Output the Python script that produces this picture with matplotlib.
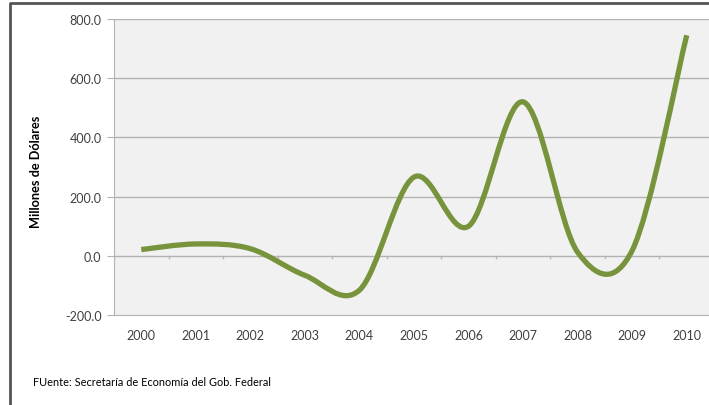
import matplotlib
matplotlib.use("Agg")
import matplotlib.pyplot as plt
from matplotlib.path import Path
from matplotlib.patches import PathPatch
from matplotlib.lines import Line2D
import numpy as np

plt.rcParams['font.family'] = ['Lato', 'DejaVu Sans']

# datos
years = ['2000', '2001', '2002', '2003', '2004', '2005',
         '2006', '2007', '2008', '2009', '2010']
values = [21, 40, 24, -66, -116, 266, 100, 520, 12, 18, 745]
yticks = [-200, 0, 200, 400, 600, 800]
ylabel = 'Millones de Dólares'
source = 'FUente: Secretaría de Economía del Gob. Federal'

line_color = '#77933C'
grid_color = '#b3b3b3'
text_color = '#404040'

fig = plt.figure(figsize=(7.09, 4.06), dpi=100)
ax = fig.add_axes([114 / 709, 1 - 316 / 406, 600 / 709, 296 / 406])
ax.set_facecolor('#f1f1f1')

x = np.arange(len(years))
y = np.array(values, dtype=float)

# suavizado tipo Excel (Catmull-Rom -> Bezier)
verts = [(x[0], y[0])]
codes = [Path.MOVETO]
n = len(x)
for i in range(n - 1):
    p0 = (x[i - 1], y[i - 1]) if i > 0 else (x[i], y[i])
    p1 = (x[i], y[i])
    p2 = (x[i + 1], y[i + 1])
    p3 = (x[i + 2], y[i + 2]) if i + 2 < n else (x[i + 1], y[i + 1])
    c1 = (p1[0] + (p2[0] - p0[0]) / 6, p1[1] + (p2[1] - p0[1]) / 6)
    c2 = (p2[0] - (p3[0] - p1[0]) / 6, p2[1] - (p3[1] - p1[1]) / 6)
    verts += [c1, c2, p2]
    codes += [Path.CURVE4] * 3
ax.add_patch(PathPatch(Path(verts, codes), facecolor='none',
                       edgecolor=line_color, lw=3.8, capstyle='butt',
                       joinstyle='round', zorder=4))

ax.set_xlim(-0.5, len(years) - 0.5)
ax.set_ylim(-200, 800)

# rejilla
for v in [200, 400, 600, 800]:
    ax.axhline(v, color=grid_color, lw=1, zorder=1)
# eje de categorias en cero
ax.axhline(0, color=grid_color, lw=1, zorder=2)
for k in range(len(years) + 1):
    ax.plot([k - 0.5, k - 0.5], [0, -8], color=grid_color, lw=1, zorder=2)

for side in ['top', 'right']:
    ax.spines[side].set_visible(False)
ax.spines['left'].set_color(grid_color)
ax.spines['bottom'].set_color(grid_color)

ax.set_yticks(yticks)
ax.set_yticklabels(['%.1f' % v for v in yticks])
ax.tick_params(axis='y', direction='out', length=5, color=grid_color,
               labelcolor=text_color, labelsize=9, pad=4)
ax.set_xticks(x)
ax.set_xticklabels(years)
ax.tick_params(axis='x', length=0, labelcolor=text_color, labelsize=9, pad=10)

fig.text(36 / 709, 1 - 172 / 406, ylabel, rotation=90, ha='center',
         va='center', fontsize=9.2, fontweight='bold', color='black')
fig.text(33 / 709, 1 - 383 / 406, source, ha='left', va='center',
         fontsize=7.9, color='black')

# marco
fig.add_artist(Line2D([10 / 709, 10 / 709, 1.0], [0, 1 - 4 / 406, 1 - 4 / 406],
                      transform=fig.transFigure, color='#555555', lw=2))

fig.savefig('out.png', dpi=100)
